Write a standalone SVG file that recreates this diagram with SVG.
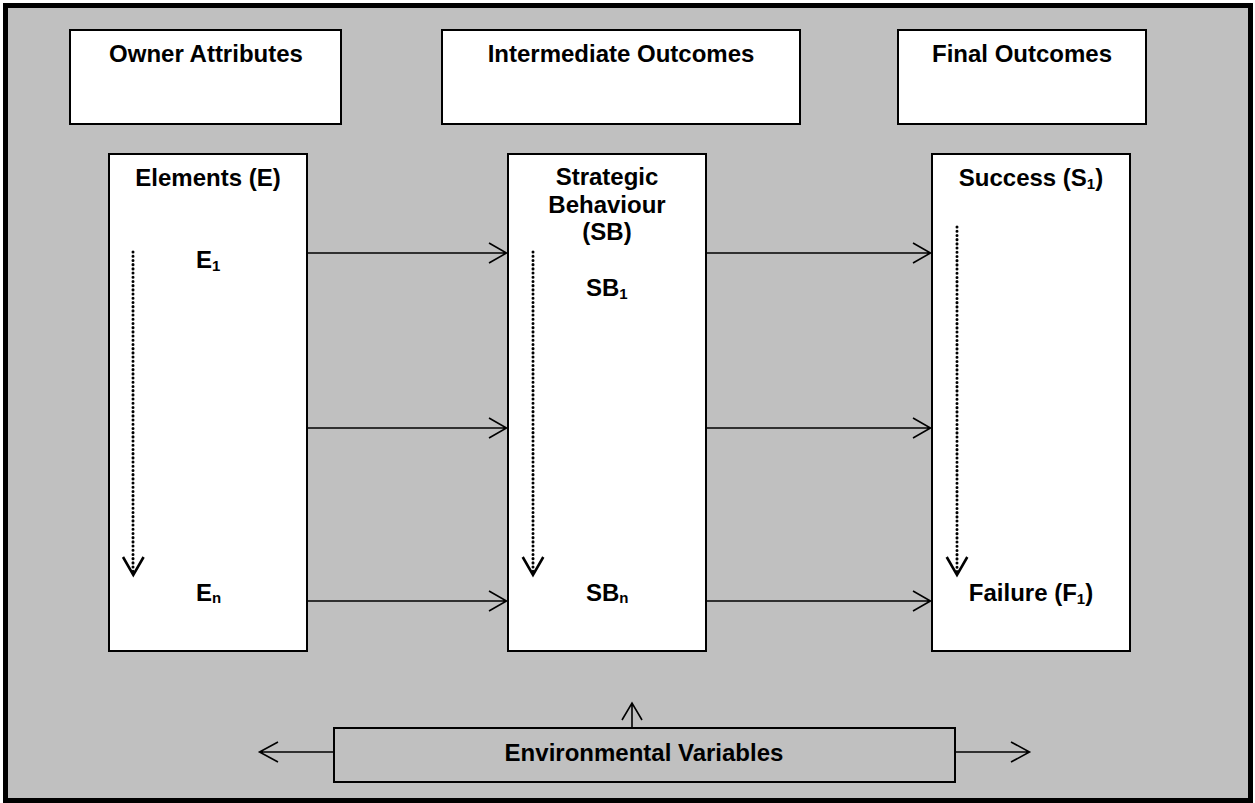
<svg xmlns="http://www.w3.org/2000/svg" width="1255" height="803" viewBox="0 0 1255 803">
<style>
.box{fill:#ffffff;stroke:#000000;stroke-width:2}
.t{font-family:"Liberation Sans",Arial,sans-serif;font-weight:bold;font-size:24px;fill:#000000}
.sub{font-size:15px}
.c{stroke:#000000;stroke-width:1.6;fill:none}
.dot{stroke:#000000;stroke-width:3;stroke-linecap:round;stroke-dasharray:0.1 4.1;fill:none}
.dh{stroke:#000000;stroke-width:2.6;fill:none}
</style>
<rect x="5.5" y="5.5" width="1245" height="795" fill="#c0c0c0" stroke="#000000" stroke-width="5"/>
<g id="owner-attributes">
<rect class="box" x="70" y="30" width="271" height="94"/>
<text class="t" x="206" y="62" text-anchor="middle">Owner Attributes</text>
</g>
<g id="intermediate-outcomes">
<rect class="box" x="442" y="30" width="358" height="94"/>
<text class="t" x="621" y="62" text-anchor="middle">Intermediate Outcomes</text>
</g>
<g id="final-outcomes">
<rect class="box" x="898" y="30" width="248" height="94"/>
<text class="t" x="1022" y="62" text-anchor="middle">Final Outcomes</text>
</g>
<g id="elements">
<rect class="box" x="109" y="154" width="198" height="497"/>
<text class="t" x="208" y="186" text-anchor="middle">Elements (E)</text>
<text class="t" x="196" y="268">E<tspan class="sub" dy="3">1</tspan></text>
<text class="t" x="196" y="601">E<tspan class="sub" dy="2">n</tspan></text>
<path class="dot" d="M133 252 V572"/>
<path class="dh" d="M123 557 L133.3 575 L143.6 557"/>
</g>
<g id="strategic-behaviour">
<rect class="box" x="508" y="154" width="198" height="497"/>
<text class="t" x="607" y="185" text-anchor="middle">Strategic</text>
<text class="t" x="607" y="213" text-anchor="middle">Behaviour</text>
<text class="t" x="607" y="240" text-anchor="middle">(SB)</text>
<text class="t" x="586" y="296">SB<tspan class="sub" dy="3">1</tspan></text>
<text class="t" x="586" y="601">SB<tspan class="sub" dy="2">n</tspan></text>
<path class="dot" d="M533 252 V572"/>
<path class="dh" d="M522.7 557 L533 575 L543.3 557"/>
</g>
<g id="success">
<rect class="box" x="932" y="154" width="198" height="497"/>
<text class="t" x="1031" y="186" text-anchor="middle">Success (S<tspan class="sub" dy="3">1</tspan><tspan dy="-3">)</tspan></text>
<text class="t" x="1031" y="601" text-anchor="middle">Failure (F<tspan class="sub" dy="3">1</tspan><tspan dy="-3">)</tspan></text>
<path class="dot" d="M957 227 V572"/>
<path class="dh" d="M946.7 557 L957 575 L967.3 557"/>
</g>
<g id="environmental-variables">
<rect x="334" y="728" width="621" height="54" fill="#c0c0c0" stroke="#000000" stroke-width="2"/>
<text class="t" x="644" y="761" text-anchor="middle">Environmental Variables</text>
</g>
<g id="connectors">
<path class="c" d="M308 253 H506.5 M489 243 L506.5 253 L489 263"/>
<path class="c" d="M308 428 H506.5 M489 418 L506.5 428 L489 438"/>
<path class="c" d="M308 601 H506.5 M489 591 L506.5 601 L489 611"/>
<path class="c" d="M707 253 H930.5 M913 243 L930.5 253 L913 263"/>
<path class="c" d="M707 428 H930.5 M913 418 L930.5 428 L913 438"/>
<path class="c" d="M707 601 H930.5 M913 591 L930.5 601 L913 611"/>
<path class="c" d="M632 727 V703 M622 720 L632 703 L642 720"/>
<path class="c" d="M333 752 H259.5 M278 742 L259.5 752 L278 762"/>
<path class="c" d="M956 752 H1029.5 M1011 742 L1029.5 752 L1011 762"/>
</g>
</svg>
